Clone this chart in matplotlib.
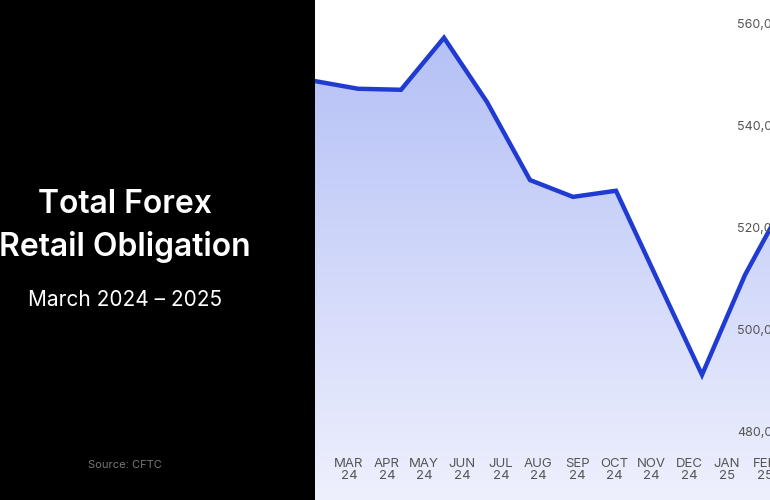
import matplotlib
matplotlib.use("Agg")
import matplotlib.pyplot as plt
import numpy as np
from matplotlib.colors import LinearSegmentedColormap

values = [549.0, 547.5, 547.3, 557.5, 544.9, 529.6, 526.3, 527.5, 509.4, 491.4, 511.0, 526.5]  # thousands
months = ["MAR\n24", "APR\n24", "MAY\n24", "JUN\n24", "JUL\n24", "AUG\n24", "SEP\n24",
          "OCT\n24", "NOV\n24", "DEC\n24", "JAN\n25", "FEB\n25"]
label_px = [349, 387, 424, 462, 501, 538, 577, 614, 651, 689, 727, 765]
yticks = [480, 500, 520, 540, 560]

W, H = 770, 500
fig = plt.figure(figsize=(W/100, H/100), dpi=100)
fig.patch.set_facecolor("white")

bg = fig.add_axes([0, 0, 315/W, 1])
bg.set_facecolor("black"); bg.set_xticks([]); bg.set_yticks([])
for s in bg.spines.values(): s.set_visible(False)
fig.text(125/W, 1-205/H, "Total Forex", color="white", fontsize=23, fontweight="semibold",
         ha="center", va="center", family="Inter")
fig.text(125/W, 1-247/H, "Retail Obligation", color="white", fontsize=23, fontweight="semibold",
         ha="center", va="center", family="Inter")
fig.text(125/W, 1-300/H, "March 2024 – 2025", color="white", fontsize=15,
         ha="center", va="center", family="Inter")
fig.text(125/W, 1-465/H, "Source: CFTC", color="#777777", fontsize=8,
         ha="center", va="center", family="Inter")

ax = fig.add_axes([315/W, 0, 515/W, 1])
ymax = 560 + 25/5.1
ymin = 480 - (H-433)/5.1
spacing = 43
ax.set_xlim(0, 515/spacing)
ax.set_ylim(ymin, ymax)
ax.axis("off")
x = np.arange(len(values))
poly = ax.fill_between(x, values, ymin, color="none", lw=0)
cmap = LinearSegmentedColormap.from_list("g", ["#eef0fd", "#b3bff6"])
grad = np.linspace(0, 1, 256).reshape(-1, 1)
im = ax.imshow(grad, extent=[0, 515/spacing, ymin, 560], origin="lower", aspect="auto",
               cmap=cmap, zorder=1)
im.set_clip_path(poly.get_paths()[0], transform=ax.transData)
ax.plot(x, values, color="#1f3bd1", lw=3.2, zorder=3, solid_joinstyle="miter")

for v in yticks:
    ax.text((737-315)/515, v, f"{v},000", transform=ax.get_yaxis_transform(),
            ha="left", va="center", fontsize=9, color="#555555", family="Inter")
for px, lab in zip(label_px, months):
    ax.text((px-315)/spacing, ymin + (H-470)/5.1, lab, ha="center", va="center",
            fontsize=9.5, color="#555555", family="Inter", linespacing=1.0)

fig.savefig("out.png", dpi=100)
